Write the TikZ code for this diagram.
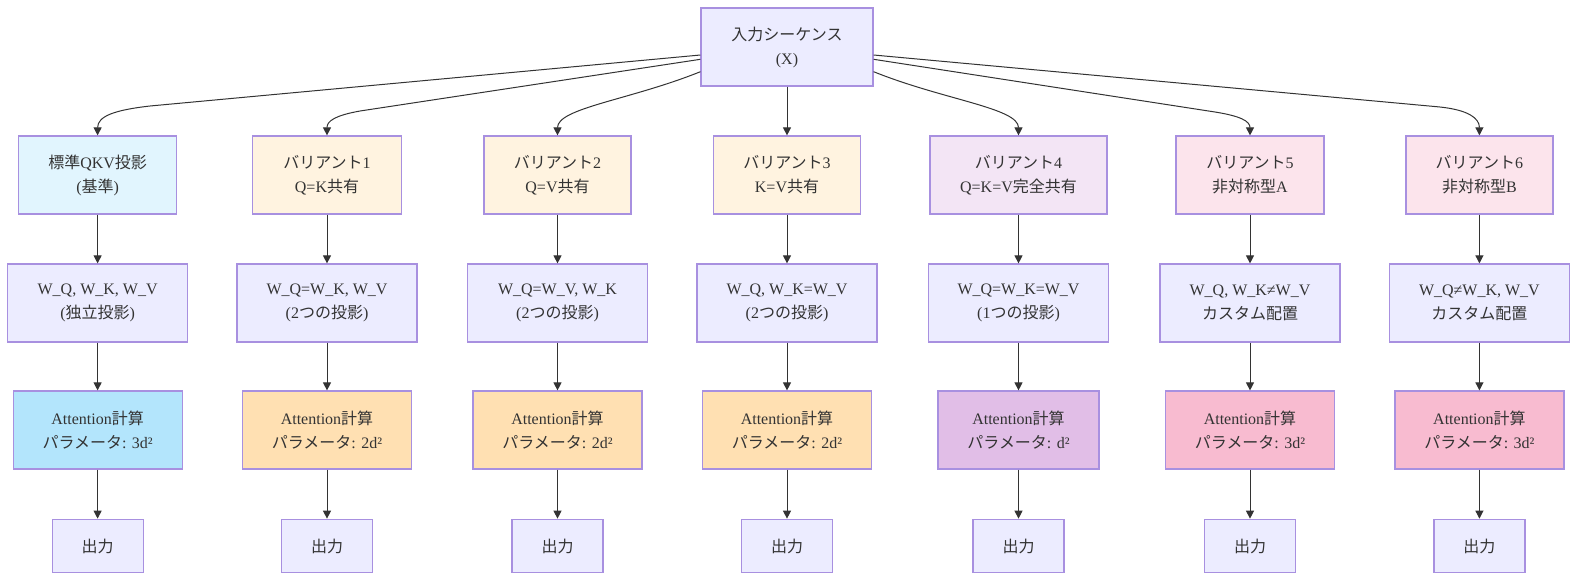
\documentclass[tikz,border=0pt]{standalone}
\usepackage{fontspec}
\setmainfont{Liberation Serif}
\newfontfamily\cjk{Noto Sans CJK JP}
\newcommand\jp[1]{{\cjk #1}}
\usetikzlibrary{arrows.meta}
\definecolor{edgec}{HTML}{333333}
\definecolor{strokec}{HTML}{A890E0}
\definecolor{defc}{HTML}{ECECFF}
\definecolor{bluel}{HTML}{E1F5FE}
\definecolor{blued}{HTML}{B3E5FC}
\definecolor{orl}{HTML}{FFF3E0}
\definecolor{ord}{HTML}{FFE0B2}
\definecolor{pul}{HTML}{F3E5F5}
\definecolor{pud}{HTML}{E1BEE7}
\definecolor{pil}{HTML}{FCE4EC}
\definecolor{pid}{HTML}{F8BBD0}
\tikzset{
  box/.style={draw=strokec, line width=1.2pt, fill=defc, align=center, inner sep=0pt,
    text=edgec, font=\fontsize{16}{24}\selectfont, minimum height=78pt},
  rowa/.style={box, minimum width=#1},
  rowb/.style={box, minimum width=180pt},
  rowc/.style={box, minimum width=#1},
  rowd/.style={box, minimum width=91pt, minimum height=53.5pt},
  arr/.style={draw=edgec, line width=1pt, -{Triangle[length=8pt,width=8pt]}}
}
\begin{document}
\begin{tikzpicture}[x=1pt,y=-1pt]
\useasboundingbox (0,0) rectangle (1578,582);
% top
\node[box, minimum width=172pt] (top) at (787,47) {\jp{入力シーケンス}\\(X)};
% row 1
\node[rowa=158pt, fill=bluel] (a1) at (97.6,175) {\jp{標準}QKV\jp{投影}\\(\jp{基準})};
\node[rowa=149pt, fill=orl] (a2) at (327,175) {\jp{バリアント}1\\Q=K\jp{共有}};
\node[rowa=147pt, fill=orl] (a3) at (557.5,175) {\jp{バリアント}2\\Q=V\jp{共有}};
\node[rowa=147pt, fill=orl] (a4) at (787,175) {\jp{バリアント}3\\K=V\jp{共有}};
\node[rowa=177pt, fill=pul] (a5) at (1018.5,175) {\jp{バリアント}4\\Q=K=V\jp{完全共有}};
\node[rowa=148pt, fill=pil] (a6) at (1250,175) {\jp{バリアント}5\\\jp{非対称型}A};
\node[rowa=147pt, fill=pil] (a7) at (1479.4,175) {\jp{バリアント}6\\\jp{非対称型}B};
% row 2
\node[rowb] (b1) at (97.6,303) {W\_Q, W\_K, W\_V\\(\jp{独立投影})};
\node[rowb] (b2) at (327,303) {W\_Q=W\_K, W\_V\\(2\jp{つの投影})};
\node[rowb] (b3) at (557.5,303) {W\_Q=W\_V, W\_K\\(2\jp{つの投影})};
\node[rowb] (b4) at (787,303) {W\_Q, W\_K=W\_V\\(2\jp{つの投影})};
\node[rowb] (b5) at (1018.5,303) {W\_Q=W\_K=W\_V\\(1\jp{つの投影})};
\node[rowb] (b6) at (1250,303) {W\_Q, W\_K≠W\_V\\\jp{カスタム配置}};
\node[rowb] (b7) at (1479.4,303) {W\_Q≠W\_K, W\_V\\\jp{カスタム配置}};
% row 3
\node[rowc=169pt, fill=blued] (c1) at (97.6,430) {Attention\jp{計算}\\\jp{パラメータ}: 3d²};
\node[rowc=169pt, fill=ord] (c2) at (327,430) {Attention\jp{計算}\\\jp{パラメータ}: 2d²};
\node[rowc=169pt, fill=ord] (c3) at (557.5,430) {Attention\jp{計算}\\\jp{パラメータ}: 2d²};
\node[rowc=169pt, fill=ord] (c4) at (787,430) {Attention\jp{計算}\\\jp{パラメータ}: 2d²};
\node[rowc=161pt, fill=pud] (c5) at (1018.5,430) {Attention\jp{計算}\\\jp{パラメータ}: d²};
\node[rowc=169pt, fill=pid] (c6) at (1250,430) {Attention\jp{計算}\\\jp{パラメータ}: 3d²};
\node[rowc=169pt, fill=pid] (c7) at (1479.4,430) {Attention\jp{計算}\\\jp{パラメータ}: 3d²};
% row 4
\foreach \i/\x in {1/97.6,2/327,3/557.5,4/787,5/1018.5,6/1250,7/1479.4}
  \node[rowd] (d\i) at (\x,546) {\jp{出力}};
% vertical edges
\foreach \i in {1,...,7} {
  \draw[arr] (a\i) -- (b\i);
  \draw[arr] (b\i) -- (c\i);
  \draw[arr] (c\i) -- (d\i);
}
% top edges
\draw[arr] (top.west |- 0,55) -- (150,106) .. controls (115,110) and (a1.north |- 0,116) .. (a1.north);
\draw[arr] (top.west |- 0,59.3) -- (360,111) .. controls (335,115.5) and (a2.north |- 0,121) .. (a2.north);
\draw[arr] (top.west |- 0,71.7) .. controls (630,100) and (a3.north |- 0,108) .. (a3.north);
\draw[arr] (top) -- (a4);
\draw[arr] (top.east |- 0,71.7) .. controls (944,100) and (a5.north |- 0,108) .. (a5.north);
\draw[arr] (top.east |- 0,59.3) -- (1215,112) .. controls (1240,116) and (a6.north |- 0,121) .. (a6.north);
\draw[arr] (top.east |- 0,55) -- (1440,107) .. controls (1468,110) and (a7.north |- 0,118) .. (a7.north);
\end{tikzpicture}
\end{document}
